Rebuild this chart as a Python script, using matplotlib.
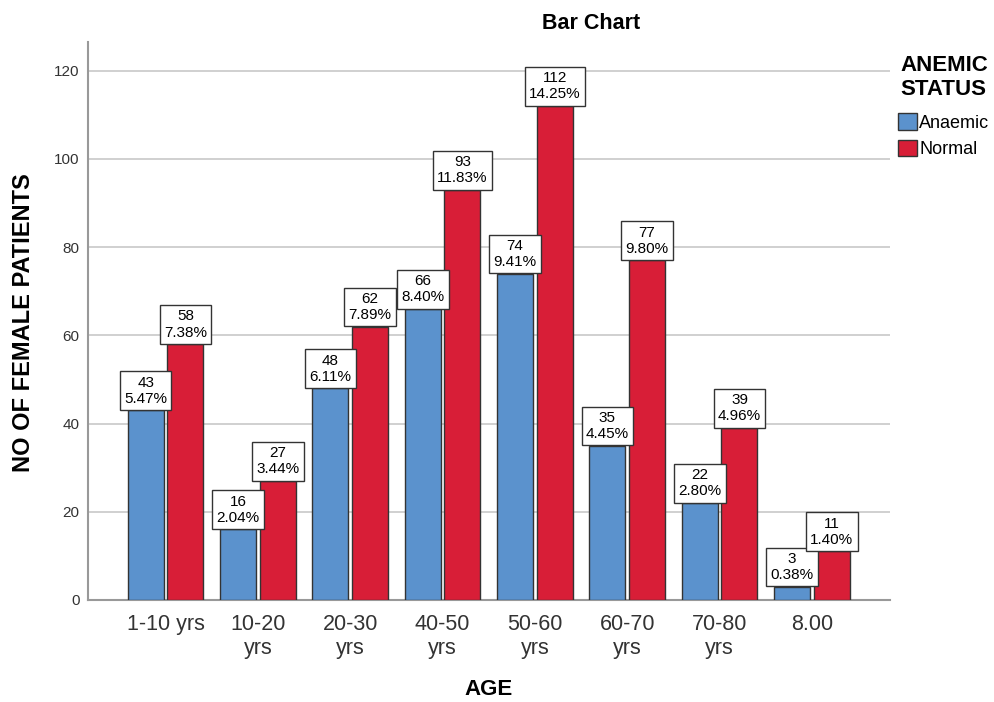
import matplotlib.pyplot as plt
import numpy as np

plt.rcParams['font.family'] = ['Liberation Sans', 'DejaVu Sans']

age_groups = ['1-10 yrs', '10-20\nyrs', '20-30\nyrs', '40-50\nyrs', '50-60\nyrs',
              '60-70\nyrs', '70-80\nyrs', '8.00']
anaemic = [43, 16, 48, 66, 74, 35, 22, 3]
normal = [58, 27, 62, 93, 112, 77, 39, 11]
anaemic_pct = ['5.47%', '2.04%', '6.11%', '8.40%', '9.41%', '4.45%', '2.80%', '0.38%']
normal_pct = ['7.38%', '3.44%', '7.89%', '11.83%', '14.25%', '9.80%', '4.96%', '1.40%']

blue = '#5b92cd'
red = '#d81e37'

fig = plt.figure(figsize=(9.95, 7.02), dpi=100)
ax = fig.add_axes([0.0884, 0.1453, 0.8056, 0.7947])

x = np.arange(len(age_groups))
width = 0.39
gap = 0.02

ax.bar(x - width / 2 - gap, anaemic, width, color=blue, edgecolor='#333333', linewidth=1, label='Anaemic', zorder=3)
ax.bar(x + width / 2 + gap, normal, width, color=red, edgecolor='#333333', linewidth=1, label='Normal', zorder=3)

# value + percent boxes sitting on top of each bar
box = dict(boxstyle='square,pad=0.28', facecolor='white', edgecolor='#333333', linewidth=1)
for i in range(len(x)):
    ax.annotate('%d\n%s' % (anaemic[i], anaemic_pct[i]), (x[i] - width / 2 - gap, anaemic[i]),
                xytext=(0, 3.3), textcoords='offset points', ha='center', va='bottom',
                fontsize=11, linespacing=1.2, bbox=box, zorder=5)
    ax.annotate('%d\n%s' % (normal[i], normal_pct[i]), (x[i] + width / 2 + gap, normal[i]),
                xytext=(0, 3.3), textcoords='offset points', ha='center', va='bottom',
                fontsize=11, linespacing=1.2, bbox=box, zorder=5)

ax.set_xlim(-0.84, 7.84)
ax.set_ylim(0, 126.5)
ax.set_yticks(np.arange(0, 121, 20))
ax.yaxis.grid(True, color='#c8c8c8', linewidth=1.2, zorder=0)
ax.set_xticks(x)
ax.set_xticklabels(age_groups, fontsize=15.5, color='#333333', linespacing=1.2)
ax.tick_params(axis='y', labelsize=11, colors='#333333', length=0, pad=6)
ax.tick_params(axis='x', length=0, pad=10)
for s in ['top', 'right']:
    ax.spines[s].set_visible(False)
ax.spines['left'].set_color('#999999')
ax.spines['bottom'].set_color('#999999')
ax.spines['left'].set_linewidth(1.5)
ax.spines['bottom'].set_linewidth(1.5)

fig.text(0.594, 0.966, 'Bar Chart', fontsize=15.5, fontweight='bold', ha='center', va='center')
fig.text(0.024, 0.541, 'NO OF FEMALE PATIENTS', fontsize=17, fontweight='bold',
         rotation=90, ha='center', va='center')
fig.text(0.491, 0.0185, 'AGE', fontsize=16, fontweight='bold', ha='center', va='center')

leg = fig.legend(loc='upper left', bbox_to_anchor=(0.903, 0.9215), frameon=False,
                 title='ANEMIC\nSTATUS', fontsize=13, handlelength=1.0, handleheight=1.0,
                 handletextpad=0.15, labelspacing=0.45, borderaxespad=0, borderpad=0)
leg.get_title().set_fontweight('bold')
leg.get_title().set_fontsize(16)
leg.get_title().set_linespacing(1.15)
leg._legend_box.sep = 10

plt.savefig('out.png', dpi=100)
